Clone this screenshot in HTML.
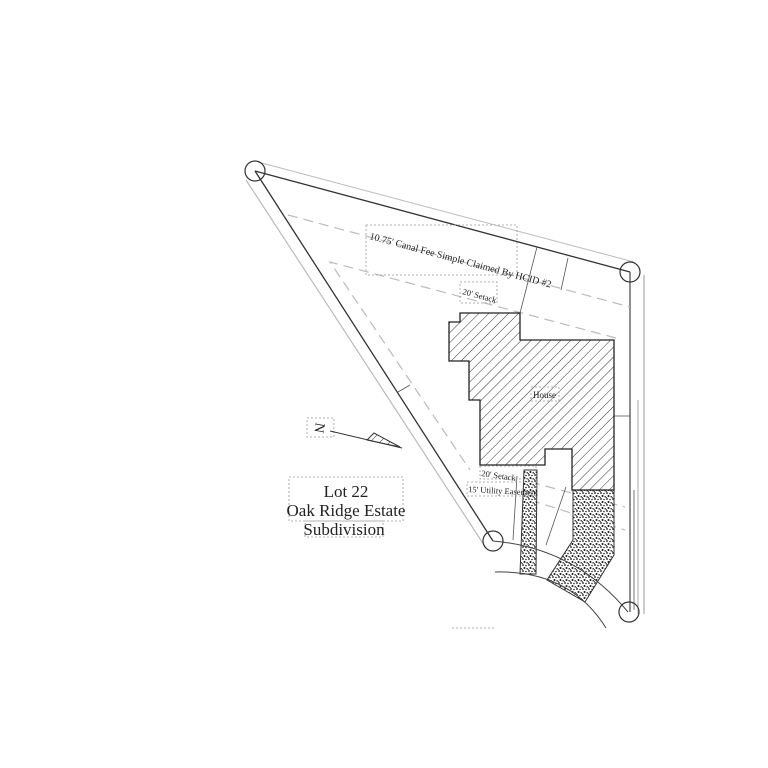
<!DOCTYPE html>
<html><head><meta charset="utf-8"><style>
html,body{margin:0;padding:0;background:#fff}
svg{display:block}
text{font-family:"Liberation Serif",serif;fill:#222}
</style></head><body>
<svg width="768" height="768" viewBox="0 0 768 768" xmlns="http://www.w3.org/2000/svg">
<defs>
<pattern id="hatch" width="7" height="7" patternUnits="userSpaceOnUse" patternTransform="rotate(45)">
<line x1="0" y1="0" x2="0" y2="7" stroke="#333" stroke-width="1"/>
</pattern>
<pattern id="stip" width="6" height="6" patternUnits="userSpaceOnUse">
<rect width="6" height="6" fill="#fff"/>
<circle cx="1" cy="1" r="0.9" fill="#111"/><circle cx="4" cy="1.5" r="0.8" fill="#222"/>
<circle cx="2.5" cy="4" r="1" fill="#111"/><circle cx="5.2" cy="4.8" r="0.8" fill="#222"/>
<circle cx="0.5" cy="5.5" r="0.5" fill="#222"/>
</pattern>
</defs>
<line x1="258" y1="162" x2="634" y2="262" stroke="#bbb" stroke-width="1"/>
<line x1="246" y1="180" x2="486" y2="548" stroke="#bbb" stroke-width="1.2"/>
<line x1="644" y1="275" x2="644" y2="614" stroke="#999" stroke-width="1"/>
<line x1="638" y1="400" x2="638" y2="614" stroke="#aaa" stroke-width="1"/>
<line x1="255" y1="171" x2="630" y2="272" stroke="#333" stroke-width="1.3"/>
<line x1="255" y1="171" x2="493" y2="541" stroke="#333" stroke-width="1.3"/>
<line x1="630" y1="272" x2="630" y2="612" stroke="#444" stroke-width="1.2"/>
<g stroke="#bbb" stroke-width="1.2" stroke-dasharray="10,6" fill="none">
<line x1="288" y1="215" x2="630" y2="307"/>
<polyline points="616,338 330,262 470,470"/>
<line x1="530" y1="482" x2="625" y2="507"/>
<line x1="530" y1="500" x2="625" y2="530"/>
</g>
<g stroke="#555" stroke-width="0.8">
<line x1="537" y1="247" x2="520" y2="313"/>
<line x1="568" y1="258" x2="561" y2="290"/>
<line x1="398" y1="392" x2="410" y2="385"/>
<line x1="517" y1="476" x2="513" y2="540"/>
<line x1="566" y1="487" x2="546" y2="545"/>
<line x1="614" y1="416" x2="630" y2="416"/>
<line x1="634" y1="490" x2="634" y2="610"/>
</g>
<polygon points="573,490 614,490 614,555 585,602 547,580 573,540" fill="url(#stip)" stroke="#333" stroke-width="1"/>
<polygon points="524,470 537,470 536,574 520,574" fill="url(#stip)" stroke="#333" stroke-width="1"/>
<polygon points="460,313 520,313 520,340 614,340 614,490 572,490 572,449 545,449 545,465 480,465 480,400 469,400 469,361 449,361 449,322 460,322" fill="url(#hatch)" stroke="#222" stroke-width="1.3"/>
<path d="M493,541 Q575,548 628,612" fill="none" stroke="#444" stroke-width="1"/>
<path d="M495,572 Q570,570 606,628" fill="none" stroke="#444" stroke-width="1"/>
<g fill="none" stroke="#333" stroke-width="1.2">
<circle cx="255" cy="171" r="10"/>
<circle cx="630" cy="272" r="10"/>
<circle cx="493" cy="541" r="10"/>
<circle cx="629" cy="612" r="10"/>
</g>
<g fill="none" stroke="#999" stroke-width="0.8" stroke-dasharray="2,2">
<rect x="366" y="225" width="151" height="50"/>
<rect x="460" y="282" width="37" height="21"/>
<rect x="531" y="387" width="28" height="14"/>
<rect x="480" y="466" width="56" height="13"/>
<rect x="467" y="482" width="70" height="14"/>
<rect x="289" y="477" width="114" height="44"/>
<rect x="305" y="521" width="78" height="16"/>
<rect x="307" y="418" width="27" height="19"/>
<line x1="452" y1="628" x2="494" y2="628"/>
</g>
<text x="369" y="239" font-size="10" transform="rotate(15 369 239)">10.75' Canal Fee Simple Claimed By HCID #2</text>
<text x="462" y="294" font-size="8.5" transform="rotate(15 462 294)">20' Setack</text>
<text x="533" y="398" font-size="9">House</text>
<text x="481" y="476" font-size="8.5" transform="rotate(8 481 476)">20' Setack</text>
<text x="468" y="492" font-size="8.5" transform="rotate(3 468 492)">15' Utility Easement</text>
<text x="346" y="497" font-size="17" text-anchor="middle">Lot 22</text>
<text x="346" y="516" font-size="17" text-anchor="middle">Oak Ridge Estate</text>
<text x="344" y="535" font-size="17" text-anchor="middle">Subdivision</text>
<text x="320" y="428" font-size="14" text-anchor="middle" transform="rotate(100 320 428)" dy="5">N</text>
<line x1="330" y1="431" x2="402" y2="448" stroke="#333" stroke-width="1"/>
<polygon points="367,440 374,433 400,447" fill="url(#hatch)" stroke="#333" stroke-width="1"/>
</svg>
</body></html>
